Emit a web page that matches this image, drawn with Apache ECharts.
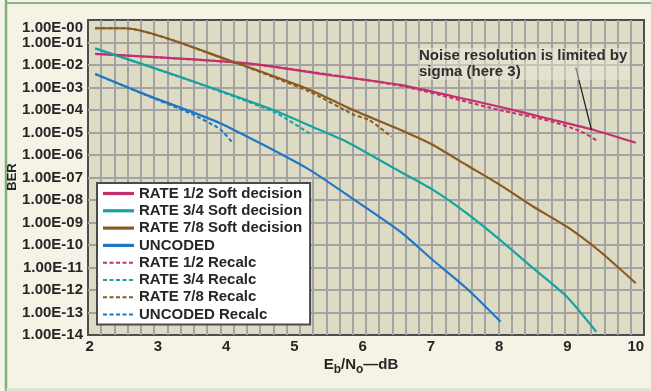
<!DOCTYPE html>
<html>
<head>
<meta charset="utf-8">
<script src="https://cdn.jsdelivr.net/npm/echarts@6/dist/echarts.min.js"></script>
<style>html,body{margin:0;padding:0;background:#f5f3e5;}#c{width:651px;height:391px;}</style>
</head>
<body>
<div id="c"></div>
<script>
// ---- data ----
const xTickLabels = [2, 3, 4, 5, 6, 7, 8, 9, 10];
const seriesNames = ['RATE 1/2 Soft decision', 'RATE 3/4 Soft decision', 'RATE 7/8 Soft decision', 'UNCODED',
                     'RATE 1/2 Recalc', 'RATE 3/4 Recalc', 'RATE 7/8 Recalc', 'UNCODED Recalc'];

const rate12X = [2.08, 2.9, 4.3, 5.5, 6.55, 7.3, 8.0, 8.75, 9.4, 10.0];
const rate12Y = [3.1e-2, 2.3e-2, 1.2e-2, 3.6e-3, 1.3e-3, 4.2e-4, 1.4e-4, 3.9e-5, 1.26e-5, 3.5e-6];

const rate34X = [2.08, 3.32, 4.69, 5.3, 5.77, 6.55, 7.03, 7.52, 8.01, 8.5, 8.99, 9.42];
const rate34Y = [5.5e-2, 3.0e-3, 1.0e-4, 1.6e-5, 3.8e-6, 1.8e-7, 2.8e-8, 2.6e-9, 1.7e-10, 9.1e-12, 5.0e-13, 1.4e-14];

const rate78X = [2.08, 2.51, 4.10, 5.23, 5.86, 6.67, 7.03, 7.52, 8.01, 8.50, 8.99, 9.48, 10.0];
const rate78Y = [0.43, 0.43, 1.4e-2, 7.8e-4, 1.0e-4, 9.1e-6, 2.8e-6, 3.6e-7, 4.7e-8, 5.0e-9, 6.5e-10, 5.0e-11, 2.0e-12];

const uncodedX = [2.08, 2.83, 3.91, 5.18, 5.86, 6.55, 7.03, 7.52, 8.02];
const uncodedY = [4.0e-3, 4.7e-4, 2.6e-5, 2.6e-7, 1.1e-8, 3.9e-10, 2.1e-11, 1.2e-12, 3.9e-14];

const rate12RecalcX = [2.08, 4.3, 6.55, 8.0, 8.75, 9.2, 9.43];
const rate12RecalcY = [3.1e-2, 1.17e-2, 1.2e-3, 1.0e-4, 3.2e-5, 1.1e-5, 4.4e-6];

const rate34RecalcX = [2.08, 3.32, 4.69, 5.22];
const rate34RecalcY = [5.5e-2, 2.9e-3, 8.5e-5, 9.1e-6];

const rate78RecalcX = [2.08, 2.51, 4.10, 5.23, 5.86, 6.1, 6.42];
const rate78RecalcY = [0.43, 0.43, 1.35e-2, 6.3e-4, 6.3e-5, 3.5e-5, 6.5e-6];

const uncodedRecalcX = [2.08, 2.83, 3.5, 3.91, 4.08];
const uncodedRecalcY = [4.0e-3, 4.5e-4, 6.5e-5, 1.4e-5, 3.9e-6];

const arrowFrom = [9.12, 7.9e-3];
const arrowTo = [9.35, 1.3e-5];
const noteText = 'Noise resolution is limited by\nsigma (here 3)';

// ---- styling ----
const FONT = '"Liberation Sans", Arial, sans-serif';
const TXT = '#262626';
const colors = ['#c4306f', '#17a3a0', '#8a5a1f', '#1f77c4'];

function pairs(xs, ys) { return xs.map((x, i) => [x, ys[i]]); }

const solidData = [pairs(rate12X, rate12Y), pairs(rate34X, rate34Y), pairs(rate78X, rate78Y), pairs(uncodedX, uncodedY)];
const dashData = [pairs(rate12RecalcX, rate12RecalcY), pairs(rate34RecalcX, rate34RecalcY), pairs(rate78RecalcX, rate78RecalcY), pairs(uncodedRecalcX, uncodedRecalcY)];

const series = [];
solidData.forEach((d, i) => series.push({
  name: seriesNames[i], type: 'line', data: d, showSymbol: false, symbol: 'none',
  smooth: 0.2,
  xAxisIndex: 0, yAxisIndex: 0, z: 3,
  lineStyle: { color: colors[i], width: 2.2 }, itemStyle: { color: colors[i] }
}));
dashData.forEach((d, i) => series.push({
  name: seriesNames[i + 4], type: 'line', data: d, showSymbol: false, symbol: 'none',
  smooth: 0.2,
  xAxisIndex: 0, yAxisIndex: 0, z: 4,
  lineStyle: { color: colors[i], width: 2, type: [4, 2.5] }, itemStyle: { color: colors[i] }
}));
series[0].markLine = {
  silent: true, symbol: ['none', 'arrow'], symbolSize: [0, 9],
  label: { show: false },
  lineStyle: { color: '#1a1a1a', width: 1.2, type: 'solid' },
  data: [[{ coord: arrowFrom }, { coord: arrowTo }]]
};

const legendData = seriesNames.map((n, i) => ({
  name: n,
  lineStyle: i < 4 ? { width: 3.2 } : { width: 2, type: [4, 2.5] }
}));

const option = {
  animation: false,
  backgroundColor: '#f5f3e5',
  textStyle: { fontFamily: FONT },
  grid: { left: 88, top: 20, width: 556, height: 315, show: true, backgroundColor: '#dedbc5', borderColor: '#4d4d4d', borderWidth: 2 },
  xAxis: [{
    type: 'value', min: 1.975, max: 10.12,
    axisLine: { show: false }, axisTick: { show: false }, splitLine: { show: false },
    axisLabel: { customValues: xTickLabels, margin: 4, fontSize: 15, fontWeight: 'bold', color: TXT, fontFamily: FONT }
  }, {
    type: 'value', min: 0, max: 42, interval: 1, position: 'top',
    axisLine: { show: false }, axisTick: { show: false }, axisLabel: { show: false },
    splitLine: { show: true, showMinLine: false, showMaxLine: false, lineStyle: { color: '#a3a3a3', width: 2 } }
  }],
  yAxis: [{
    type: 'log', logBase: 10, min: 1e-14, max: 1, interval: 1,
    axisLine: { show: false }, axisTick: { show: false },
    splitLine: { show: true, showMinLine: false, showMaxLine: false, lineStyle: { color: '#a3a3a3', width: 2 } },
    axisLabel: {
      margin: 5, fontSize: 15, fontWeight: 'bold', color: TXT, fontFamily: FONT,
      verticalAlignMaxLabel: 'top',
      formatter: function (v) {
        const e = Math.round(-Math.log10(v));
        return '1.00E-' + String(e).padStart(2, '0');
      }
    }
  }],
  legend: {
    orient: 'vertical', left: 97, top: 183, selectedMode: false,
    padding: [3, 8, 2.5, 4.4], itemGap: 2.3, itemWidth: 31, itemHeight: 14,
    backgroundColor: '#ffffff', borderColor: '#4a4a4a', borderWidth: 2,
    itemStyle: { opacity: 0, borderWidth: 0 },
    textStyle: { fontSize: 15, fontWeight: 'bold', color: TXT, fontFamily: FONT },
    data: legendData, z: 10
  },
  graphic: [
    { type: 'line', z: 100, shape: { x1: 6, y1: 0, x2: 6, y2: 391 }, style: { stroke: '#7eae7e', lineWidth: 2.5 } },
    { type: 'line', z: 100, shape: { x1: 6, y1: 3, x2: 651, y2: 3 }, style: { stroke: '#89b589', lineWidth: 2 } },
    { type: 'line', z: 100, shape: { x1: 6, y1: 389.5, x2: 651, y2: 389.5 }, style: { stroke: '#d3e2cd', lineWidth: 2 } },
    { type: 'text', z: 100, x: 12, y: 177, rotation: Math.PI / 2,
      style: { text: 'BER', textAlign: 'center', textVerticalAlign: 'middle', font: 'bold 13px ' + FONT, fill: TXT } },
    { type: 'text', z: 100, x: 361, y: 365,
      style: {
        text: '{a|E}{s|b}{a|/N}{s|o}{a|—dB}', textAlign: 'center', textVerticalAlign: 'middle',
        rich: {
          a: { fontSize: 15, fontWeight: 'bold', fontFamily: FONT, fill: TXT, lineHeight: 22, verticalAlign: 'middle' },
          s: { fontSize: 12, fontWeight: 'bold', fontFamily: FONT, fill: TXT, lineHeight: 12, verticalAlign: 'bottom' }
        }
      } },
    { type: 'text', z: 100, x: 418, y: 48,
      style: { text: noteText, font: 'bold 15px ' + FONT, fill: '#2e2e2e', lineHeight: 16,
        backgroundColor: 'rgba(236,234,218,0.45)', padding: [0, 2, 0, 1] } }
  ],
  series: series
};

const chart = echarts.init(document.getElementById('c'), null, { renderer: 'canvas' });
chart.setOption(option);
</script>
</body>
</html>
